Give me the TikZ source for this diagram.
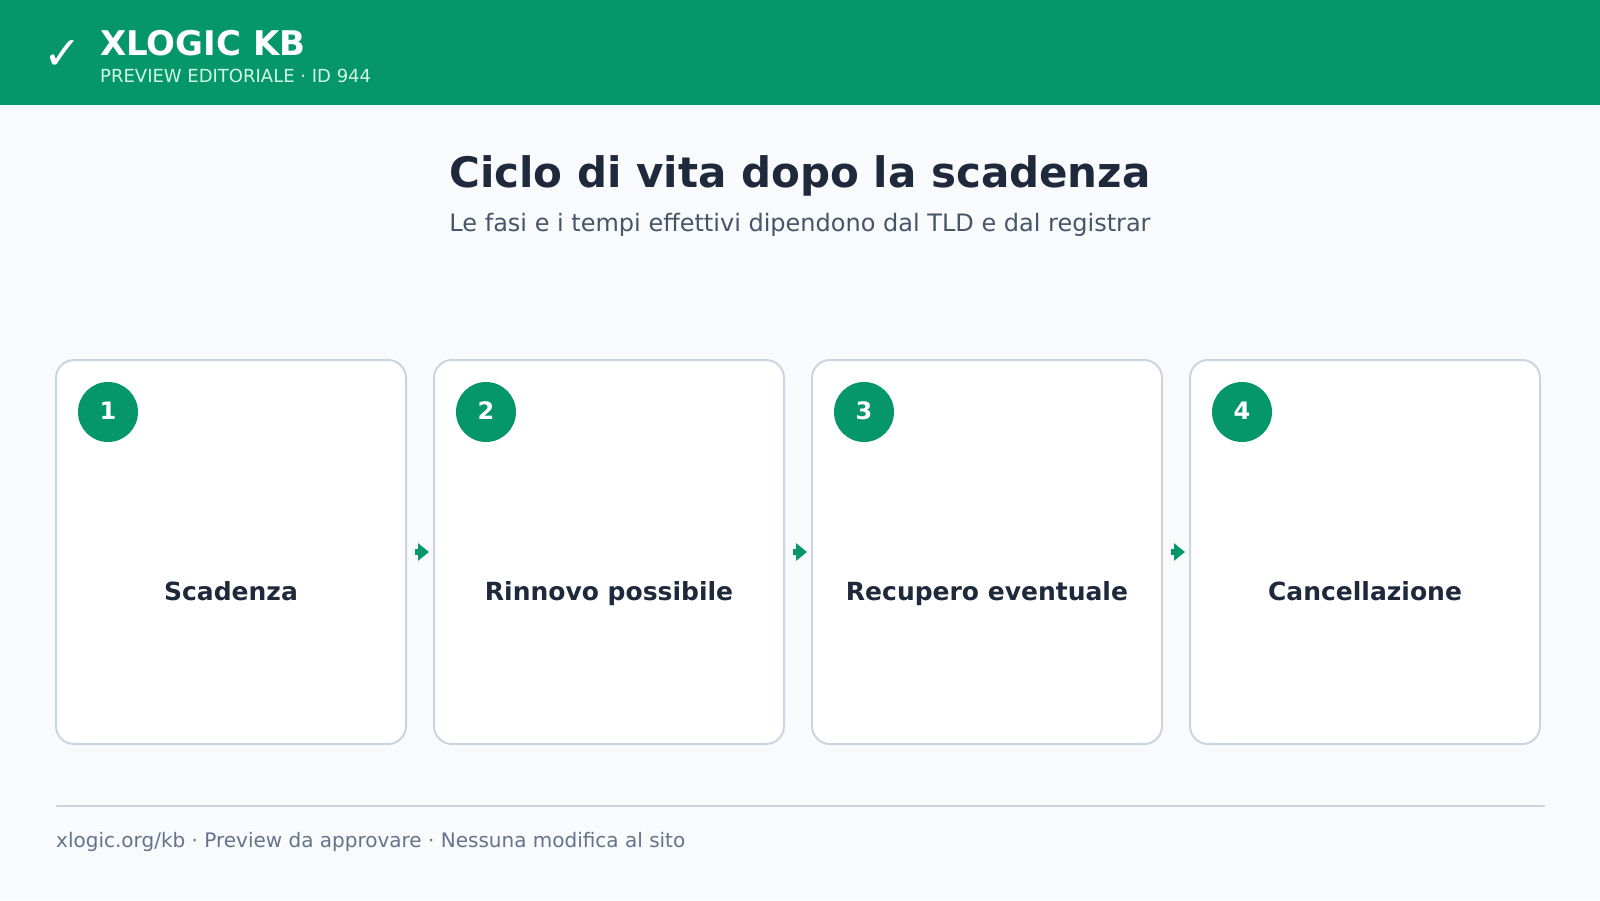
\documentclass[tikz,border=0pt]{standalone}
\usepackage{fontspec}
\setmainfont{DejaVu Sans}
\usetikzlibrary{positioning,arrows.meta}

\definecolor{brand}{HTML}{059669}
\definecolor{pagebg}{HTML}{F8FAFC}
\definecolor{cardline}{HTML}{CBD5E1}
\definecolor{ink}{HTML}{1E293B}
\definecolor{subink}{HTML}{475569}
\definecolor{footink}{HTML}{64748B}
\definecolor{mint}{HTML}{D1FAE5}

\begin{document}
\begin{tikzpicture}[
x=1pt,y=-1pt,
stage/.style={
  draw=cardline,
  line width=2pt,
  fill=white,
  rounded corners=18pt,
  minimum width=350pt,
  minimum height=384pt,
  inner sep=0pt
  },
badge/.style={
  circle,
  fill=brand,
  minimum size=60pt,
  inner sep=0pt,
  text=white,
  font=\fontsize{24}{24}\selectfont\bfseries
  },
caption/.style={
  text=ink,
  font=\fontsize{25}{25}\selectfont\bfseries
  },
flow/.style={
  draw=brand,
  line width=6pt,
  -{Triangle[width=17pt,length=11pt]},
  shorten <=8pt,
  shorten >=4pt
  }
]
% page and header band
\fill[pagebg] (0,0) rectangle (1600,900);
\useasboundingbox (0,0) rectangle (1600,900);
\fill[brand] (0,0) rectangle (1600,105);
\node[text=white, font=\fontsize{46}{46}\selectfont] (tick) at (63,55) {✓};
\node[anchor=base west, inner sep=0pt, text=white, font=\fontsize{34}{34}\selectfont\bfseries] (brandname) at (100,55) {XLOGIC KB};
\node[anchor=base west, inner sep=0pt, text=mint, font=\fontsize{18}{18}\selectfont] (brandsub) at (100,82) {PREVIEW EDITORIALE · ID 944};

% title
\node[anchor=base, inner sep=0pt, text=ink, font=\fontsize{42}{42}\selectfont\bfseries] (title) at (800,187) {Ciclo di vita dopo la scadenza};
\node[anchor=base, inner sep=0pt, text=subink, font=\fontsize{24}{24}\selectfont] (subtitle) at (800,231) {Le fasi e i tempi effettivi dipendono dal TLD e dal registrar};

% stages
\foreach \lbl [count=\i] in {Scadenza,Rinnovo possibile,Recupero eventuale,Cancellazione}
{
  \node[stage] (card\i) at (231+378*\i-378,552) {};
  \node[badge] (num\i) at ([xshift=53pt,yshift=-53pt]card\i.north west) {\raisebox{2pt}{\i}};
  \node[caption, anchor=base] (cap\i) at ([yshift=-48pt]card\i.center) {\lbl};
}
\foreach \a [count=\b from 2] in {1,2,3}
  \draw[flow] (card\a) -- (card\b);

% footer
\draw[cardline, line width=2pt] (56,806) coordinate (rulel) -- (1545,806) coordinate (ruler);
\node[anchor=base west, inner sep=0pt, text=footink, font=\fontsize{20}{20}\selectfont] (footer) at (56,847) {xlogic.org/kb · Preview da approvare · Nessuna modifica al sito};
\end{tikzpicture}
\end{document}
